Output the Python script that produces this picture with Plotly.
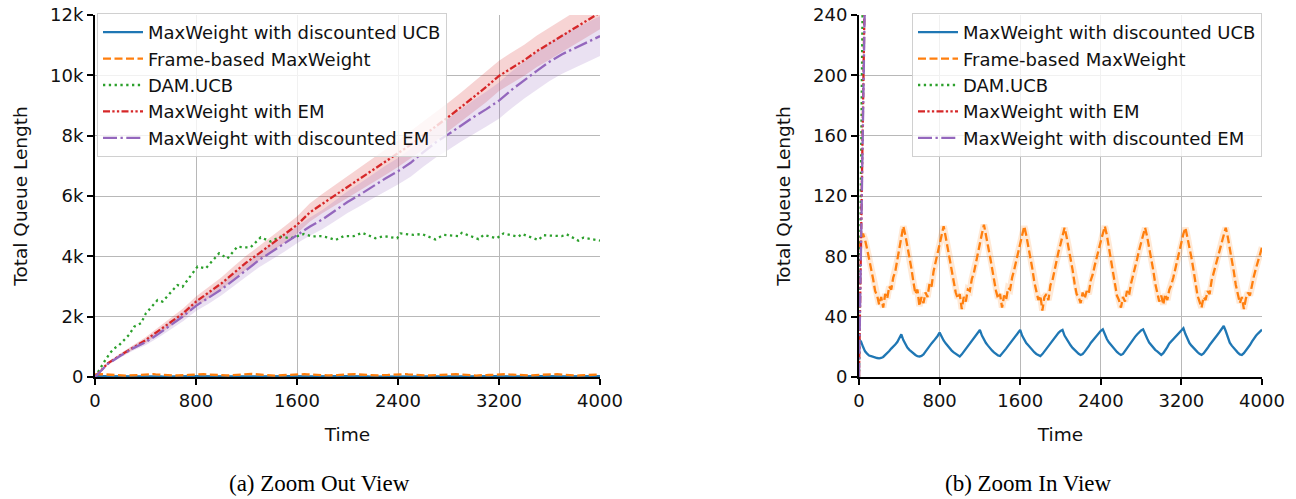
import plotly.graph_objects as go

# ---------------- data ----------------
names = ["MaxWeight with discounted UCB", "Frame-based MaxWeight", "DAM.UCB",
         "MaxWeight with EM", "MaxWeight with discounted EM"]

t20 = list(range(0, 4001, 20))

ucb_disc = [
    25, 23.5, 20, 17, 15.5, 14.2, 13.8, 13.3, 12.8, 12.6, 12.4, 12.6, 13.3, 14.5, 15.6, 17.2, 18.8, 20, 21.5, 23.2,
    25.5, 28.3, 24.5, 21.5, 19.5, 18, 16.8, 15.5, 14.6, 13.8, 13.6, 14.0, 15.0, 16.8, 18.8, 20.8, 22.3, 23.8, 25.3, 27.2,
    29.4, 26.5, 24.2, 22.3, 20.5, 19, 17.5, 16.3, 15.2, 14.3, 13.6, 15.0, 16.8, 18.6, 20.5, 22.3, 23.8, 25.3, 27, 28.8,
    31.2, 27.5, 24.5, 22.5, 20.8, 19, 17.6, 16.3, 15.2, 14.3, 13.9, 15.3, 17, 18.8, 20.6, 22.3, 24, 25.6, 27.2, 29,
    31.2, 27.3, 24.8, 22.5, 21, 19.3, 17.8, 16.4, 15.3, 14.3, 13.9, 15.2, 17, 18.8, 20.6, 22.4, 24, 25.8, 27.6, 29.3,
    30.5, 31.2, 27.5, 25, 23, 21, 19.3, 17.8, 16.5, 15.4, 14.6, 15.2, 16.8, 18.4, 20.4, 22.6, 24.2, 25.8, 27.5, 29.2,
    30.6, 31.6, 28, 25.2, 23, 21.2, 19.4, 18, 16.6, 15.5, 14.6, 15.3, 17.2, 19.3, 21.4, 23.4, 25, 26.6, 28.2, 29.6,
    30.8, 31.6, 28.2, 25.5, 22.8, 21, 19.3, 18, 17, 15.8, 14.6, 15.8, 17.6, 19.8, 22.3, 23.8, 25.2, 26.8, 28.4, 30,
    31.4, 32.3, 28.5, 25.3, 22.5, 20.8, 19.2, 17.8, 16.5, 15.4, 14.6, 15.6, 17.2, 19.2, 21.2, 22.8, 24.6, 26.3, 28.2, 30,
    31.8, 33.8, 30.5, 26.5, 22.8, 20.8, 19, 17.5, 16.2, 15.0, 14.6, 15.8, 17.5, 19.5, 21.2, 23.5, 25.6, 27.3, 28.8, 30.2,
    31.4,
]

frame_mw = [
    85, 92, 95, 91, 85, 79, 72, 65, 57, 54, 48, 53, 46, 55, 52, 60, 58, 66, 70, 77,
    84, 92, 100, 94, 87, 80, 72, 63, 55, 58, 47, 53, 49, 56, 53, 62, 60, 70, 76, 82,
    88, 95, 100, 93, 86, 79, 72, 64, 56, 52, 55, 45, 53, 50, 58, 57, 65, 69, 76, 82,
    88, 95, 101, 95, 87, 80, 72, 64, 57, 52, 55, 46, 54, 51, 59, 58, 66, 71, 77, 83,
    88, 94, 100, 94, 87, 80, 72, 63, 56, 51, 54, 44, 53, 55, 51, 61, 64, 71, 77, 83,
    88, 94, 99, 93, 86, 79, 71, 62, 55, 53, 49, 56, 52, 57, 55, 64, 68, 74, 80, 85,
    90, 95, 100, 94, 86, 79, 71, 62, 54, 51, 46, 53, 50, 57, 54, 62, 67, 72, 78, 84,
    89, 95, 99, 93, 86, 79, 71, 62, 55, 50, 54, 48, 55, 51, 58, 61, 66, 72, 78, 83,
    89, 95, 99, 93, 86, 79, 71, 62, 54, 50, 46, 53, 51, 57, 55, 64, 69, 74, 80, 85,
    90, 95, 99, 93, 86, 78, 70, 61, 54, 49, 53, 45, 52, 56, 54, 62, 67, 72, 77, 81,
    86,
]

dam_t = [0, 40, 80, 120, 153, 190, 232, 270, 311, 364,
         403, 450, 495, 535, 590, 653, 693, 750, 812, 877,
         930, 983, 1049, 1090, 1128, 1180, 1233, 1312, 1391, 1470,
         1549, 1655, 1720, 1787, 1850, 1905, 1971, 2050, 2116, 2221,
         2287, 2393, 2419, 2524, 2590, 2696, 2761, 2880, 2906, 3038,
         3078, 3183, 3236, 3354, 3381, 3512, 3552, 3697, 3736, 3829,
         3868, 4000]
dam_ucb = [0, 300, 550, 800, 950, 1050, 1230, 1400, 1670, 1780,
           2110, 2350, 2550, 2500, 2750, 3050, 2990, 3300, 3660, 3600,
           3850, 4100, 3930, 4150, 4320, 4300, 4300, 4630, 4490, 4650,
           4600, 4740, 4660, 4670, 4620, 4540, 4670, 4670, 4780, 4600,
           4670, 4600, 4760, 4710, 4740, 4560, 4710, 4670, 4780, 4570,
           4710, 4600, 4760, 4650, 4740, 4540, 4700, 4670, 4730, 4520,
           4620, 4520]

em_t = [0, 50] + list(range(100, 4001, 100))
em = [0, 240,
      450, 720, 980, 1220, 1520, 1820, 2120, 2500, 2800, 3100,
      3450, 3800, 4100, 4420, 4720, 5040, 5450, 5750, 6020, 6300,
      6580, 6850, 7120, 7400, 7700, 8000, 8300, 8620, 8950, 9280,
      9620, 9980, 10250, 10500, 10800, 11050, 11300, 11550, 11820, 12080]
em_band = [0, 20,
           40, 60, 80, 100, 120, 140, 160, 170, 190, 200,
           220, 230, 240, 260, 270, 280, 300, 320, 340, 360,
           380, 400, 420, 440, 450, 460, 470, 480, 480, 490,
           500, 500, 510, 510, 520, 530, 530, 540, 550, 550]
disc_em = [0, 230,
           430, 700, 950, 1150, 1420, 1720, 2020, 2360, 2620, 2900,
           3220, 3560, 3880, 4150, 4420, 4710, 4980, 5220, 5500, 5800,
           6050, 6320, 6580, 6820, 7100, 7450, 7780, 8050, 8350, 8620,
           8880, 9160, 9520, 9850, 10150, 10450, 10700, 10900, 11100, 11300]
disc_em_band = [0, 20,
                40, 60, 80, 100, 120, 140, 160, 170, 190, 200,
                220, 230, 240, 260, 270, 280, 300, 320, 340, 360,
                380, 400, 420, 440, 460, 480, 500, 520, 540, 560,
                580, 600, 610, 620, 630, 640, 650, 650, 660, 660]

x_ticks = [0, 800, 1600, 2400, 3200, 4000]
y_ticks_a = [0, 2000, 4000, 6000, 8000, 10000, 12000]
y_text_a = ["0", "2k", "4k", "6k", "8k", "10k", "12k"]
y_ticks_b = [0, 40, 80, 120, 160, 200, 240]

# ---------------- style ----------------
colors = ["#1f77b4", "#ff7f0e", "#2ca02c", "#d62728", "#9467bd"]
dashes = ["solid", "8px,3.5px", "2.3px,3.5px", "7px,2.3px,2.3px,2.3px,2.3px,2.3px", "14px,3.5px,2.3px,3.5px"]
band_fill = {"em": "rgba(214,39,40,0.2)", "disc": "rgba(148,103,189,0.2)"}
FONT = "DejaVu Sans"
FS = 18
TXT = "#111111"
LW = 2.3

fig = go.Figure()


def add_panel(xa, ya, leg, halo):
    # confidence bands
    for tt, mean, band, key in [(em_t, em, em_band, "em"), (em_t, disc_em, disc_em_band, "disc")]:
        up = [m + b for m, b in zip(mean, band)]
        lo = [m - b for m, b in zip(mean, band)]
        fig.add_trace(go.Scatter(x=tt + tt[::-1], y=up + lo[::-1], fill="toself",
                                 fillcolor=band_fill[key], line=dict(width=0),
                                 mode="lines", hoverinfo="skip", showlegend=False,
                                 xaxis=xa, yaxis=ya))
    if halo:
        fig.add_trace(go.Scatter(x=t20, y=frame_mw, mode="lines",
                                 line=dict(color="rgba(255,127,14,0.17)", width=6.5),
                                 hoverinfo="skip", showlegend=False, xaxis=xa, yaxis=ya))
    data = [(t20, ucb_disc), (t20, frame_mw), (dam_t, dam_ucb), (em_t, em), (em_t, disc_em)]
    for i, (tt, vv) in enumerate(data):
        fig.add_trace(go.Scatter(x=tt, y=vv, mode="lines", name=names[i],
                                 line=dict(color=colors[i], width=LW, dash=dashes[i]),
                                 legend=leg, legendrank=i + 1, xaxis=xa, yaxis=ya))


add_panel("x", "y", "legend", False)
add_panel("x2", "y2", "legend2", True)

axis_common = dict(showline=True, linecolor="black", linewidth=2, ticks="outside",
                   ticklen=6, tickwidth=1.5, tickcolor="black", showgrid=True,
                   gridcolor="#b8b8b8", gridwidth=1.2, zeroline=False, mirror=False,
                   automargin=False,
                   tickfont=dict(family=FONT, size=FS, color=TXT))
ydom = [122 / 499, 484 / 499]
title_font = dict(family=FONT, size=FS + 0.5, color=TXT)

fig.update_layout(
    width=1296, height=499, margin=dict(l=0, r=0, t=0, b=0),
    plot_bgcolor="white", paper_bgcolor="white",
    xaxis=dict(domain=[95 / 1296, 600 / 1296], range=[0, 4000], tickvals=x_ticks,
               title=dict(text="Time", font=title_font, standoff=18),
               anchor="y", **axis_common),
    yaxis=dict(domain=ydom, range=[0, 12000], tickvals=y_ticks_a, ticktext=y_text_a,
               title=dict(text="Total Queue Length", font=title_font, standoff=18),
               anchor="x", **axis_common),
    xaxis2=dict(domain=[859 / 1296, 1262 / 1296], range=[0, 4000], tickvals=x_ticks,
                title=dict(text="Time", font=title_font, standoff=18),
                anchor="y2", **axis_common),
    yaxis2=dict(domain=ydom, range=[0, 240], tickvals=y_ticks_b,
                title=dict(text="Total Queue Length", font=title_font, standoff=18),
                anchor="x2", **axis_common),
    legend=dict(x=97 / 1296, y=486 / 499, xanchor="left", yanchor="top",
                bgcolor="rgba(255,255,255,0.8)", bordercolor="#d0d0d0", borderwidth=1,
                font=dict(family=FONT, size=FS, color=TXT), itemwidth=40,
                traceorder="normal"),
    legend2=dict(x=912 / 1296, y=486 / 499, xanchor="left", yanchor="top",
                 bgcolor="rgba(255,255,255,0.8)", bordercolor="#d0d0d0", borderwidth=1,
                 font=dict(family=FONT, size=FS, color=TXT), itemwidth=40,
                 traceorder="normal"),
    annotations=[
        dict(text="(a) Zoom Out View", x=319 / 1296, y=16 / 499, xref="paper", yref="paper",
             showarrow=False, xanchor="center", yanchor="middle",
             font=dict(family="Liberation Serif", size=23, color="black")),
        dict(text="(b) Zoom In View", x=1028 / 1296, y=16 / 499, xref="paper", yref="paper",
             showarrow=False, xanchor="center", yanchor="middle",
             font=dict(family="Liberation Serif", size=23, color="black")),
    ],
)

fig.write_html("out.html")
